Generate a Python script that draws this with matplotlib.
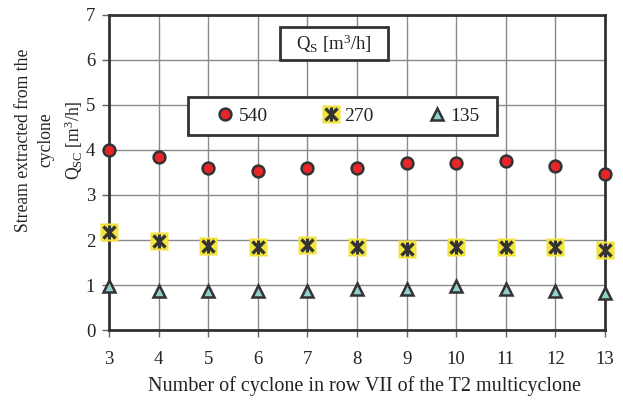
import matplotlib
matplotlib.use("Agg")
import matplotlib.pyplot as plt
from matplotlib.legend_handler import HandlerTuple
from matplotlib.patches import Rectangle

plt.rcParams['font.family'] = ['Liberation Serif', 'DejaVu Serif']
plt.rcParams['mathtext.fontset'] = 'custom'
plt.rcParams['mathtext.rm'] = 'Liberation Serif'
plt.rcParams['mathtext.it'] = 'Liberation Serif'

cyclones = [3, 4, 5, 6, 7, 8, 9, 10, 11, 12, 13]
q540 = [4.0, 3.85, 3.6, 3.53, 3.6, 3.6, 3.71, 3.71, 3.75, 3.64, 3.47]
q270 = [2.18, 1.98, 1.87, 1.84, 1.88, 1.84, 1.8, 1.84, 1.84, 1.84, 1.78]
q135 = [0.98, 0.86, 0.86, 0.86, 0.86, 0.91, 0.91, 0.98, 0.91, 0.87, 0.83]
labels = ['540', '270', '135']

fig = plt.figure(figsize=(6.23, 4.03), dpi=100)
ax = fig.add_axes([0.175, 0.181, 0.796, 0.782])

dark = '#333333'
txt = '#222222'
ax.set_xlim(3, 13)
ax.set_ylim(0, 7)
ax.set_xticks(cyclones)
ax.set_yticks(range(0, 8))
ax.grid(True, color='#8a8a8a', linewidth=1.0)
ax.set_axisbelow(True)
for s in ax.spines.values():
    s.set_color(dark)
    s.set_linewidth(2)
ax.tick_params(direction='out', length=5, width=1, color='#666666',
               labelsize=13.5, labelcolor=txt, pad=10)
ax.tick_params(axis='y', pad=5)

h1, = ax.plot(cyclones, q540, 'o', ms=8.5, mfc='#e8262a', mec=dark, mew=1.8,
              clip_on=False, zorder=5)
h2a, = ax.plot(cyclones, q270, 's', ms=13, mfc='#f2e33d', mec='none',
               clip_on=False, zorder=5)
h2b, = ax.plot(cyclones, q270, 'x', ms=8, mec=dark, mew=2.4,
               clip_on=False, zorder=6)
h2c, = ax.plot(cyclones, q270, '|', ms=10, mec=dark, mew=2.2,
               clip_on=False, zorder=6)
h3, = ax.plot(cyclones, q135, '^', ms=9, mfc='#8fcfcc', mec=dark, mew=1.8,
              clip_on=False, zorder=5)

# legend frame
ax.add_patch(Rectangle((0.159, 0.619), 0.623, 0.121, transform=ax.transAxes,
                       fc='white', ec=dark, lw=2, zorder=7))
leg = ax.legend([h1, (h2a, h2b, h2c), h3], labels, ncol=3, loc='center left',
                bbox_to_anchor=(0.214, 0.679),
                handler_map={tuple: HandlerTuple(ndivide=1)},
                frameon=False, fontsize=14, labelcolor=txt,
                handlelength=1.0, handletextpad=0.2, borderpad=0,
                borderaxespad=0, columnspacing=2.75)
leg.set_zorder(8)

# Q_S box
ax.add_patch(Rectangle((0.345, 0.857), 0.218, 0.105, transform=ax.transAxes,
                       fc='white', ec=dark, lw=2, zorder=7))
ax.text(0.454, 0.908, r'Q$_{\mathrm{S}}$ [m$^3$/h]', transform=ax.transAxes,
        ha='center', va='center', fontsize=13.5, color=txt, zorder=8)

ax.set_xlabel('Number of cyclone in row VII of the T2 multicyclone',
              fontsize=14.5, color=txt)
ax.xaxis.set_label_coords(0.516, -0.145)

fig.text(50 / 623, 1 - 140 / 403,
         'Stream extracted from the\ncyclone\nQ$_{\\mathrm{SC}}$ [m$^3$/h]',
         rotation=90, ha='center', va='center', multialignment='center',
         fontsize=12.7, color=txt, linespacing=1.45)

fig.savefig('out.png', dpi=100)
